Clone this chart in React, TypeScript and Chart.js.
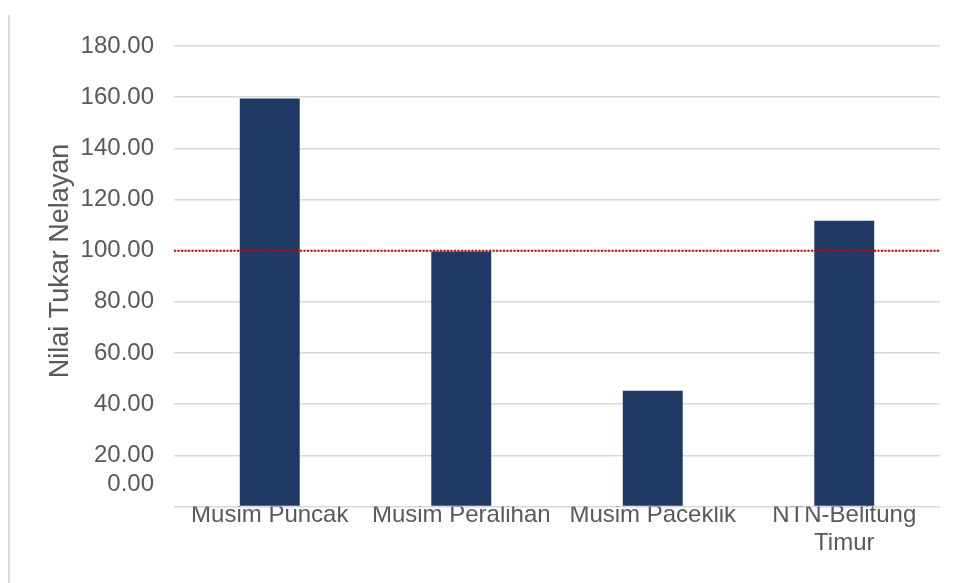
import React, { useEffect, useRef } from 'react';
import { Chart, registerables } from 'chart.js';

Chart.register(...registerables);

const categories: string[][] = [
  ['Musim Puncak'],
  ['Musim Peralihan'],
  ['Musim Paceklik'],
  ['NTN-Belitung', 'Timur'],
];
const values: number[] = [159.5, 99.7, 45.2, 111.7];
const referenceValue = 100;
const yMin = 0;
const yMax = 180;
const yStep = 20;
const yAxisTitle = 'Nilai Tukar Nelayan';

const FONT = "'Liberation Sans', Arial, sans-serif";
const TEXT = '#595959';

export default function App() {
  const ref = useRef<HTMLCanvasElement | null>(null);

  useEffect(() => {
    if (!ref.current) return;

    const refLine = {
      id: 'refLine',
      afterDatasetsDraw(chart: any) {
        const { ctx, chartArea, scales } = chart;
        const y = scales.y.getPixelForValue(referenceValue);
        ctx.save();
        ctx.strokeStyle = '#d00000';
        ctx.lineWidth = 2;
        ctx.setLineDash([2, 1.5]);
        ctx.beginPath();
        ctx.moveTo(chartArea.left, y);
        ctx.lineTo(chartArea.right, y);
        ctx.stroke();
        ctx.restore();
      },
    };

    const extraText = {
      id: 'extraText',
      afterDraw(chart: any) {
        const { ctx, chartArea, scales } = chart;
        ctx.save();
        ctx.fillStyle = TEXT;
        // zero label, raised above the category labels
        ctx.font = `24px ${FONT}`;
        ctx.textAlign = 'right';
        ctx.textBaseline = 'middle';
        ctx.fillText(yMin.toFixed(2), chartArea.left - 20, scales.y.getPixelForValue(yMin) - 22);
        // axis title
        ctx.font = `27px ${FONT}`;
        ctx.translate(61, 261);
        ctx.rotate(-Math.PI / 2);
        ctx.textAlign = 'center';
        ctx.textBaseline = 'middle';
        ctx.fillText(yAxisTitle, 0, 0);
        ctx.restore();
      },
    };

    const chart = new Chart(ref.current, {
      type: 'bar',
      data: {
        labels: categories,
        datasets: [
          {
            data: values,
            backgroundColor: '#203864',
            borderWidth: 0,
            barPercentage: 0.313,
            categoryPercentage: 1,
          },
        ],
      },
      options: {
        animation: false,
        responsive: false,
        maintainAspectRatio: false,
        layout: { padding: { top: 46, right: 15, left: 0, bottom: 0 } },
        plugins: {
          legend: { display: false },
          tooltip: { enabled: false },
          title: { display: false },
        },
        scales: {
          x: {
            grid: { display: false },
            border: { display: false },
            ticks: {
              color: TEXT,
              font: { family: FONT, size: 24, lineHeight: 1.2 },
              padding: -14,
              autoSkip: false,
              maxRotation: 0,
              minRotation: 0,
            },
            afterFit(scale: any) {
              scale.height = 76.5;
            },
          },
          y: {
            min: yMin,
            max: yMax,
            border: { display: false },
            grid: { color: '#d9d9d9', lineWidth: 1.5, drawTicks: false },
            ticks: {
              stepSize: yStep,
              color: TEXT,
              padding: 20,
              font: { family: FONT, size: 24 },
              callback: (v: any) => (Number(v) === yMin ? '' : Number(v).toFixed(2)),
            },
            afterFit(scale: any) {
              scale.width = 174;
            },
          },
        },
      },
      plugins: [refLine, extraText],
    });

    return () => chart.destroy();
  }, []);

  return (
    <div style={{ position: 'fixed', left: 0, top: 0, width: 955, height: 583, background: '#fff' }}>
      <div style={{ position: 'absolute', left: 8, top: 15, width: 2, height: 568, background: '#d9d9d9' }} />
      <canvas ref={ref} width={955} height={583} style={{ position: 'absolute', left: 0, top: 0, width: 955, height: 583 }} />
    </div>
  );
}
